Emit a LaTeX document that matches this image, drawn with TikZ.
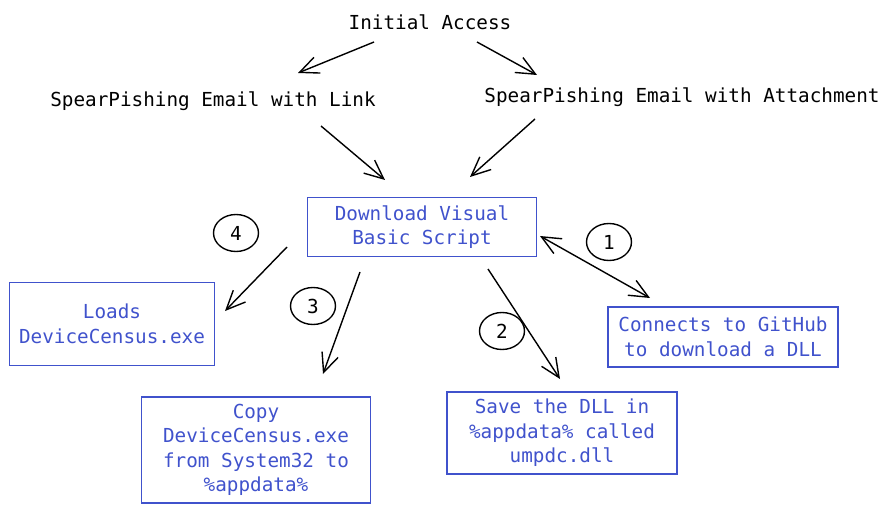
\documentclass[tikz,border=0pt]{standalone}
\usepackage{fontspec}
\setmonofont{DejaVu Sans Mono}
\usetikzlibrary{arrows.meta, calc, shapes.geometric}
\definecolor{boxblue}{RGB}{64,82,204}

\begin{document}
\begin{tikzpicture}[->, >={Straight Barb[length=19pt,width=17pt]}, x=1pt, y=-1pt, line width=1.4pt,
    font=\ttfamily\fontsize{19.3}{24.5}\selectfont]
        \tikzstyle{every node}=[inner sep=0pt, align=center]
        \tikzstyle{taskbox}=[draw=boxblue, text=boxblue, line width=1.6pt]
        \tikzstyle{badge}=[draw=black, ellipse, minimum width=45pt, minimum height=37pt]
        \useasboundingbox (0,0) rectangle (892,513);
        \node    (init)   at (430,22)  {Initial Access};
        \node    (link)   at (213,101) {SpearPishing Email with Link};
        \node    (attach) at (682,97)  {SpearPishing Email with Attachment};
        \node[taskbox, minimum width=229pt, minimum height=59pt]  (vbs)   at (422,227) {Download Visual\\Basic Script};
        \node[taskbox, minimum width=205pt, minimum height=83pt]  (loads) at (112,324) {Loads\\DeviceCensus.exe};
        \node[taskbox, minimum width=229pt, minimum height=106pt] (copy)  at (256,450) {Copy\\DeviceCensus.exe\\from System32 to\\\%appdata\%};
        \node[taskbox, minimum width=230pt, minimum height=82pt]  (save)  at (562,433) {Save the DLL in\\\%appdata\% called\\umpdc.dll};
        \node[taskbox, minimum width=230pt, minimum height=60pt]  (git)   at (723,337) {Connects to GitHub\\to download a DLL};
        \node[badge] (b1) at (609,242) {1};
        \node[badge] (b2) at (502,331) {2};
        \node[badge] (b3) at (313,306) {3};
        \node[badge] (b4) at (236,233) {4};
        \draw ($(init)+(-56,20)$)    -- ($(link)+(85,-28)$);
        \draw ($(init)+(47,20)$)     -- ($(attach)+(-145,-22)$);
        \draw ($(link)+(108,25)$)    -- ($(vbs)+(-37,-47)$);
        \draw ($(attach)+(-147,22)$) -- ($(vbs)+(48,-50)$);
        \draw ($(vbs)+(-135,20)$)    -- ($(loads)+(113,-13)$);
        \draw ($(vbs)+(-62,45)$)     -- ($(copy)+(67,-76)$);
        \draw ($(vbs)+(66,42)$)      -- ($(save)+(-2,-54)$);
        \draw[<->] ($(vbs)+(118,9)$) -- ($(git)+(-73,-39)$);
      \end{tikzpicture}
\end{document}
